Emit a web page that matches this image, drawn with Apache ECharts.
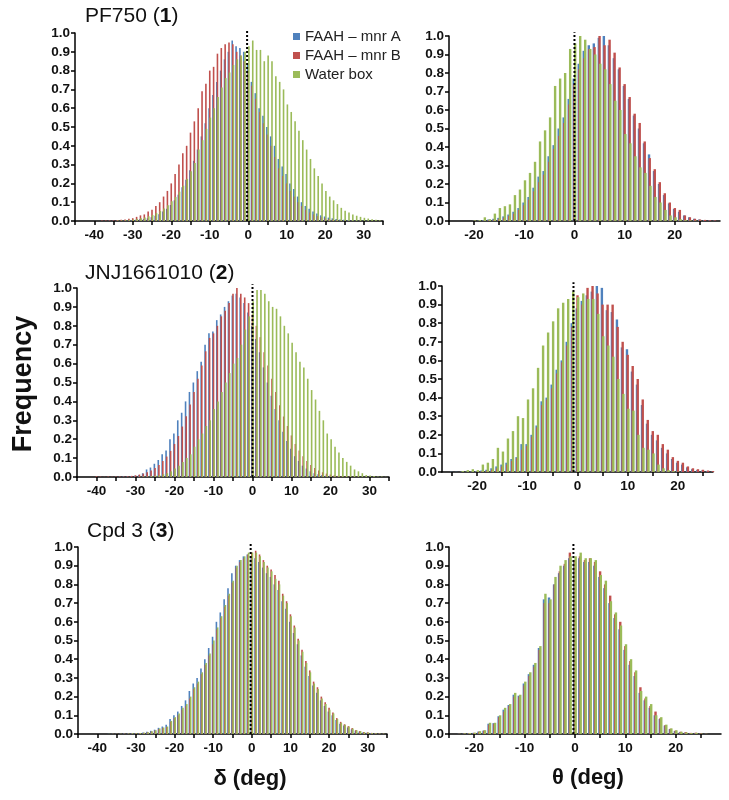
<!DOCTYPE html>
<html><head><meta charset="utf-8">
<script src="https://cdn.jsdelivr.net/npm/echarts@6/dist/echarts.min.js"></script>
<style>html,body{margin:0;padding:0;background:#fff}#c{width:729px;height:800px}</style>
</head><body><div id="c"></div>
<script>
// ---------- DATA ----------
const seriesNames = ['FAAH \u2013 mnr A', 'FAAH \u2013 mnr B', 'Water box'];
const panelTitles = ['PF750 ({b|1})', 'JNJ1661010 ({b|2})', 'Cpd 3 ({b|3})'];
const xLabelsDelta = [-40, -30, -20, -10, 0, 10, 20, 30];
const xLabelsTheta = [-20, -10, 0, 10, 20];
const yTicks = [0, 0.1, 0.2, 0.3, 0.4, 0.5, 0.6, 0.7, 0.8, 0.9, 1.0];
const refLines = [-0.3, 0, 0, -0.8, -0.3, -0.3];

// Panel 1: PF750, delta (bins start at -40)
const p1Start = -40;
const p1Blue = [0,0,0,0,0.001,0.001,0.002,0.002,0.003,0.004,
0.005,0.007,0.009,0.011,0.014,0.02,0.028,0.036,0.05,0.065,
0.085,0.11,0.14,0.18,0.22,0.27,0.32,0.38,0.45,0.52,
0.6,0.67,0.74,0.8,0.86,0.9,0.96,0.93,0.92,0.9,
0.83,0.74,0.68,0.6,0.56,0.5,0.45,0.4,0.33,0.29,
0.25,0.2,0.17,0.13,0.1,0.08,0.065,0.05,0.04,0.03,
0.024,0.018,0.014,0.01,0.008,0.006,0.004,0.003,0.002,0.002,
0.001,0.001,0,0,0];
const p1Red = [0,0,0.002,0.002,0.003,0.003,0.005,0.006,0.008,0.012,
0.015,0.022,0.03,0.035,0.05,0.06,0.08,0.1,0.13,0.16,
0.2,0.25,0.3,0.36,0.4,0.47,0.53,0.6,0.69,0.73,
0.8,0.82,0.89,0.92,0.94,0.95,0.94,0.9,0.88,0.85,
0.8,0.72,0.65,0.58,0.52,0.46,0.4,0.34,0.28,0.24,
0.2,0.16,0.13,0.1,0.08,0.06,0.045,0.035,0.026,0.02,
0.015,0.011,0.008,0.006,0.004,0.003,0.002,0.002,0.001,0.001,
0,0,0,0,0];
const p1Green = [0,0,0,0,0,0,0.002,0.003,0.004,0.006,
0.008,0.011,0.014,0.019,0.025,0.032,0.042,0.053,0.067,0.084,
0.105,0.128,0.156,0.188,0.224,0.264,0.308,0.38,0.43,0.49,
0.55,0.6,0.66,0.71,0.76,0.79,0.83,0.86,0.88,0.9,
0.93,0.96,0.91,0.91,0.85,0.88,0.85,0.77,0.74,0.7,
0.62,0.58,0.53,0.48,0.43,0.38,0.33,0.28,0.24,0.2,
0.16,0.13,0.11,0.09,0.07,0.055,0.045,0.035,0.028,0.022,
0.017,0.013,0.009,0.006,0.004];

// Panel 2: PF750, theta (bins start at -20)
const p2Start = -20;
const p2Blue = [0.001,0.002,0.005,0.008,0.012,0.017,0.025,0.035,0.05,0.07,
0.1,0.13,0.18,0.24,0.27,0.35,0.41,0.5,0.56,0.66,
0.77,0.85,0.92,0.95,0.96,0.99,1.0,0.95,0.88,0.82,
0.73,0.66,0.57,0.5,0.42,0.36,0.27,0.2,0.14,0.095,
0.065,0.05,0.03,0.02,0.012,0.008,0.005,0.003,0.002];
const p2Red = [0.001,0.001,0.003,0.005,0.008,0.012,0.018,0.028,0.04,0.06,
0.085,0.115,0.16,0.21,0.25,0.32,0.39,0.46,0.53,0.63,
0.74,0.82,0.88,0.93,0.94,1.0,0.95,0.98,0.91,0.83,
0.74,0.67,0.58,0.53,0.43,0.34,0.28,0.21,0.15,0.1,
0.07,0.06,0.03,0.02,0.012,0.008,0.006,0.004,0.003];
const p2Green = [0.003,0.005,0.02,0.01,0.04,0.07,0.08,0.09,0.14,0.17,
0.22,0.26,0.32,0.43,0.49,0.56,0.73,0.77,0.8,0.93,
0.96,1.0,0.98,0.93,0.9,0.85,0.82,0.74,0.65,0.6,
0.47,0.42,0.35,0.29,0.26,0.19,0.13,0.1,0.06,0.03,
0.02,0.01,0.005,0.003,0.002,0.001,0,0,0];

// Panel 3: JNJ1661010, delta (bins start at -40)
const p3Start = -40;
const p3Blue = [0,0,0,0,0,0.001,0.001,0.002,0.003,0.004,
0.006,0.01,0.02,0.04,0.05,0.07,0.09,0.12,0.14,0.2,
0.23,0.3,0.34,0.4,0.45,0.5,0.56,0.61,0.7,0.76,
0.77,0.83,0.86,0.9,0.93,0.96,0.97,0.95,0.92,0.87,
0.8,0.73,0.66,0.58,0.5,0.43,0.36,0.3,0.24,0.19,
0.15,0.11,0.085,0.06,0.045,0.03,0.02,0.015,0.01,0.007,
0.005,0.003,0.002,0.001,0,0,0,0,0,0,
0,0,0,0,0];
const p3Red = [0.004,0.002,0.001,0.002,0.001,0.002,0.002,0.003,0.004,0.006,
0.009,0.013,0.018,0.025,0.035,0.047,0.063,0.084,0.108,0.138,
0.175,0.217,0.267,0.322,0.383,0.45,0.52,0.59,0.665,0.736,
0.76,0.8,0.85,0.88,0.92,0.97,1.0,0.97,0.95,0.92,
0.86,0.8,0.74,0.66,0.59,0.52,0.45,0.38,0.32,0.27,
0.22,0.175,0.14,0.11,0.084,0.063,0.047,0.035,0.025,0.018,
0.013,0.009,0.006,0.004,0.003,0.002,0.001,0.001,0,0,
0,0,0,0,0];
const p3Green = [0,0,0,0,0,0,0,0,0,0,
0,0.001,0.002,0.003,0.005,0.007,0.01,0.015,0.02,0.03,
0.045,0.06,0.08,0.1,0.12,0.16,0.2,0.23,0.27,0.3,
0.36,0.4,0.45,0.5,0.55,0.6,0.63,0.7,0.78,0.85,
0.93,0.99,0.99,0.97,0.93,0.9,0.89,0.85,0.8,0.76,
0.71,0.66,0.61,0.58,0.52,0.46,0.41,0.35,0.3,0.23,
0.2,0.16,0.13,0.1,0.08,0.06,0.04,0.03,0.02,0.01,
0.008,0.005,0.003,0.002,0.001];

// Panel 4: JNJ1661010, theta (bins start at -27)
const p4Start = -27;
const p4Blue = [0,0,0.001,0.001,0.002,0.002,0.003,0.005,0.008,0.012,
0.02,0.03,0.04,0.05,0.07,0.08,0.15,0.15,0.2,0.25,
0.38,0.4,0.47,0.55,0.6,0.7,0.8,0.88,0.92,0.95,
0.97,1.0,0.99,0.87,0.86,0.82,0.67,0.66,0.54,0.47,
0.36,0.26,0.2,0.17,0.13,0.1,0.07,0.05,0.04,0.025,
0.015,0.01,0.008,0.005,0.003];
const p4Red = [0,0,0,0,0.001,0.001,0.002,0.003,0.005,0.008,
0.012,0.02,0.03,0.04,0.06,0.075,0.12,0.14,0.19,0.24,
0.36,0.39,0.45,0.53,0.59,0.68,0.78,0.95,0.9,0.99,
1.0,0.96,0.9,0.9,0.9,0.78,0.7,0.63,0.57,0.5,
0.39,0.28,0.22,0.2,0.15,0.12,0.08,0.06,0.05,0.03,
0.02,0.015,0.012,0.008,0.005];
const p4Green = [0,0,0,0,0.005,0.01,0.015,0.01,0.04,0.05,
0.07,0.13,0.11,0.18,0.22,0.3,0.29,0.39,0.45,0.56,
0.68,0.75,0.81,0.88,0.91,0.93,0.97,0.94,0.96,0.93,
0.93,0.85,0.73,0.68,0.62,0.5,0.42,0.34,0.33,0.2,
0.13,0.12,0.1,0.04,0.02,0.01,0.005,0.002,0,0,
0,0,0,0,0];

// Panel 5: Cpd 3, delta (bins start at -40)
const p5Start = -40;
const p5Blue = [0,0,0,0.001,0.001,0.002,0.002,0.003,0.003,0.004,
0.005,0.006,0.008,0.012,0.017,0.023,0.033,0.04,0.05,0.08,
0.1,0.12,0.15,0.18,0.23,0.27,0.3,0.35,0.4,0.46,
0.52,0.6,0.65,0.72,0.78,0.86,0.9,0.93,0.95,0.96,
0.95,0.94,0.92,0.89,0.86,0.84,0.8,0.77,0.71,0.67,
0.6,0.54,0.48,0.42,0.36,0.31,0.26,0.22,0.18,0.15,
0.12,0.1,0.075,0.055,0.045,0.035,0.025,0.018,0.013,0.009,
0.007,0.005,0.003,0.002,0.001];
const p5Red = [0,0,0,0,0.001,0.001,0.001,0.002,0.002,0.003,
0.004,0.005,0.006,0.009,0.013,0.018,0.027,0.032,0.038,0.065,
0.085,0.1,0.13,0.15,0.19,0.24,0.27,0.32,0.37,0.42,
0.48,0.56,0.62,0.68,0.74,0.81,0.89,0.92,0.94,0.96,
0.97,0.98,0.96,0.93,0.9,0.88,0.85,0.82,0.75,0.71,
0.64,0.58,0.51,0.45,0.39,0.34,0.28,0.25,0.2,0.17,
0.14,0.115,0.085,0.065,0.052,0.042,0.032,0.022,0.016,0.011,
0.009,0.006,0.004,0.003,0.002];
const p5Green = [0,0,0,0.001,0.001,0.001,0.002,0.002,0.003,0.004,
0.004,0.005,0.007,0.01,0.015,0.02,0.03,0.035,0.04,0.07,
0.09,0.11,0.14,0.16,0.2,0.25,0.28,0.33,0.38,0.43,
0.5,0.57,0.63,0.69,0.75,0.82,0.9,0.93,0.95,0.97,
0.97,0.97,0.95,0.92,0.89,0.87,0.83,0.8,0.74,0.7,
0.63,0.57,0.5,0.44,0.38,0.33,0.27,0.24,0.19,0.16,
0.13,0.11,0.08,0.06,0.05,0.04,0.03,0.02,0.015,0.01,
0.008,0.006,0.004,0.003,0.002];

// Panel 6: Cpd 3, theta (bins start at -25)
const p6Start = -25;
const p6Blue = [0,0,0.001,0.002,0.004,0.006,0.013,0.018,0.055,0.058,
0.095,0.13,0.155,0.21,0.205,0.27,0.32,0.37,0.46,0.72,
0.73,0.8,0.86,0.9,0.94,0.92,0.94,0.92,0.92,0.9,
0.84,0.78,0.7,0.62,0.56,0.45,0.37,0.31,0.22,0.18,
0.14,0.1,0.08,0.045,0.026,0.016,0.01,0.007,0.004,0.004,
0.002,0.001,0,0,0];
const p6Red = [0,0,0.001,0.002,0.004,0.006,0.012,0.018,0.05,0.055,
0.09,0.12,0.15,0.2,0.2,0.26,0.31,0.36,0.45,0.7,
0.7,0.8,0.87,0.91,0.97,0.93,0.95,0.93,0.94,0.92,
0.87,0.8,0.74,0.64,0.6,0.47,0.39,0.33,0.25,0.19,
0.15,0.12,0.085,0.048,0.028,0.018,0.012,0.01,0.006,0.007,
0.003,0.001,0,0,0];
const p6Green = [0,0,0.001,0.003,0.005,0.007,0.015,0.02,0.06,0.06,
0.1,0.14,0.16,0.22,0.21,0.28,0.33,0.38,0.47,0.75,
0.72,0.84,0.9,0.93,0.95,0.95,0.97,0.94,0.94,0.93,
0.85,0.82,0.71,0.65,0.58,0.48,0.4,0.34,0.23,0.2,
0.16,0.1,0.09,0.05,0.03,0.02,0.012,0.008,0.005,0.006,
0.002,0.001,0,0,0];

// ---------- LAYOUT ----------
const colors = ['#4F81BD', '#C0504D', '#9BBB59'];
const panels = [
  {start: p1Start, vals: [p1Blue, p1Red, p1Green]},
  {start: p2Start, vals: [p2Blue, p2Red, p2Green]},
  {start: p3Start, vals: [p3Blue, p3Red, p3Green]},
  {start: p4Start, vals: [p4Blue, p4Red, p4Green]},
  {start: p5Start, vals: [p5Blue, p5Red, p5Green]},
  {start: p6Start, vals: [p6Blue, p6Red, p6Green]}
];
const grids = [
  {left: 75, top: 33, width: 308, height: 188},
  {left: 449, top: 36, width: 271, height: 185},
  {left: 77, top: 288, width: 312, height: 189},
  {left: 442, top: 286, width: 271, height: 186},
  {left: 78, top: 547, width: 309, height: 187},
  {left: 449, top: 547, width: 272, height: 187}
];
const xRanges = [[-45, 35], [-25, 29], [-45, 35], [-27, 27], [-45, 35], [-25, 29]];

const FONT = '"Liberation Sans", Arial, sans-serif';
const lab = {fontSize: 13.5, fontWeight: 'bold', fontFamily: FONT, color: '#111'};

function ticksFor(r) {
  const out = [];
  for (let v = Math.ceil(r[0] / 5) * 5; v <= r[1]; v += 5) out.push(v);
  return out;
}

const xAxis = [], yAxis = [], series = [];
grids.forEach((g, i) => {
  const isTheta = (i % 2) === 1;
  const r = xRanges[i];
  xAxis.push({
    type: 'value', gridIndex: i, min: r[0], max: r[1],
    splitLine: {show: false},
    axisLine: {onZero: false, lineStyle: {color: '#000', width: 1.5}},
    axisTick: {show: true, length: 4, customValues: ticksFor(r), lineStyle: {color: '#000', width: 1.5}},
    axisLabel: Object.assign({margin: 7, customValues: isTheta ? xLabelsTheta : xLabelsDelta,
      formatter: v => String(v)}, lab)
  });
  yAxis.push({
    type: 'value', gridIndex: i, min: 0, max: 1, interval: 0.1,
    splitLine: {show: false},
    axisLine: {show: true, onZero: false, lineStyle: {color: '#000', width: 1.5}},
    axisTick: {show: true, length: 4, customValues: yTicks, lineStyle: {color: '#000', width: 1.5}},
    axisLabel: Object.assign({margin: 5, customValues: yTicks, formatter: v => v.toFixed(1)}, lab)
  });
  const p = panels[i];
  const bw = isTheta ? 2.4 : 1.6;
  p.vals.forEach((arr, j) => {
    series.push({
      type: 'bar', name: seriesNames[j], xAxisIndex: i, yAxisIndex: i,
      data: arr.map((v, k) => [p.start + k, v]),
      barWidth: bw, barGap: isTheta ? '-70%' : '-60%',
      itemStyle: {color: colors[j]},
      silent: true, animation: false
    });
  });
  series.push({
    type: 'line', xAxisIndex: i, yAxisIndex: i,
    data: [[refLines[i], 0], [refLines[i], 1.02]],
    symbol: 'none', clip: false, silent: true, animation: false, z: 10,
    lineStyle: {color: '#000', width: 2, type: [2, 2]}
  });
});

const titleStyle = {fontSize: 21, lineHeight: 21, fontWeight: 'normal', fontFamily: FONT, color: '#111',
  rich: {b: {fontSize: 21, lineHeight: 21, fontWeight: 'bold', fontFamily: FONT, color: '#111'}}};

const option = {
  backgroundColor: '#fff',
  animation: false,
  title: [
    {text: panelTitles[0], left: 85, top: 6, padding: 0, textStyle: titleStyle},
    {text: panelTitles[1], left: 85, top: 263, padding: 0, textStyle: titleStyle},
    {text: panelTitles[2], left: 87, top: 521, padding: 0, textStyle: titleStyle}
  ],
  legend: {
    data: seriesNames, orient: 'vertical', left: 293, top: 29, padding: 0,
    itemWidth: 7, itemHeight: 7, itemGap: 4, icon: 'rect',
    textStyle: {fontSize: 15, lineHeight: 15, fontFamily: FONT, color: '#222'}
  },
  grid: grids.map(g => Object.assign({containLabel: false, outerBoundsMode: 'none'}, g)),
  xAxis, yAxis, series,
  graphic: [
    {type: 'text', x: 24, y: 384, rotation: Math.PI / 2,
     style: {text: 'Frequency', font: 'bold 27px ' + FONT, fill: '#111', align: 'center', verticalAlign: 'middle'}},
    {type: 'text', x: 250, y: 779,
     style: {text: '\u03b4 (deg)', font: 'bold 22px ' + FONT, fill: '#111', align: 'center', verticalAlign: 'middle'}},
    {type: 'text', x: 588, y: 778,
     style: {text: '\u03b8 (deg)', font: 'bold 22px ' + FONT, fill: '#111', align: 'center', verticalAlign: 'middle'}}
  ]
};

const chart = echarts.init(document.getElementById('c'), null, {renderer: 'canvas'});
chart.setOption(option);
</script>
</body></html>
